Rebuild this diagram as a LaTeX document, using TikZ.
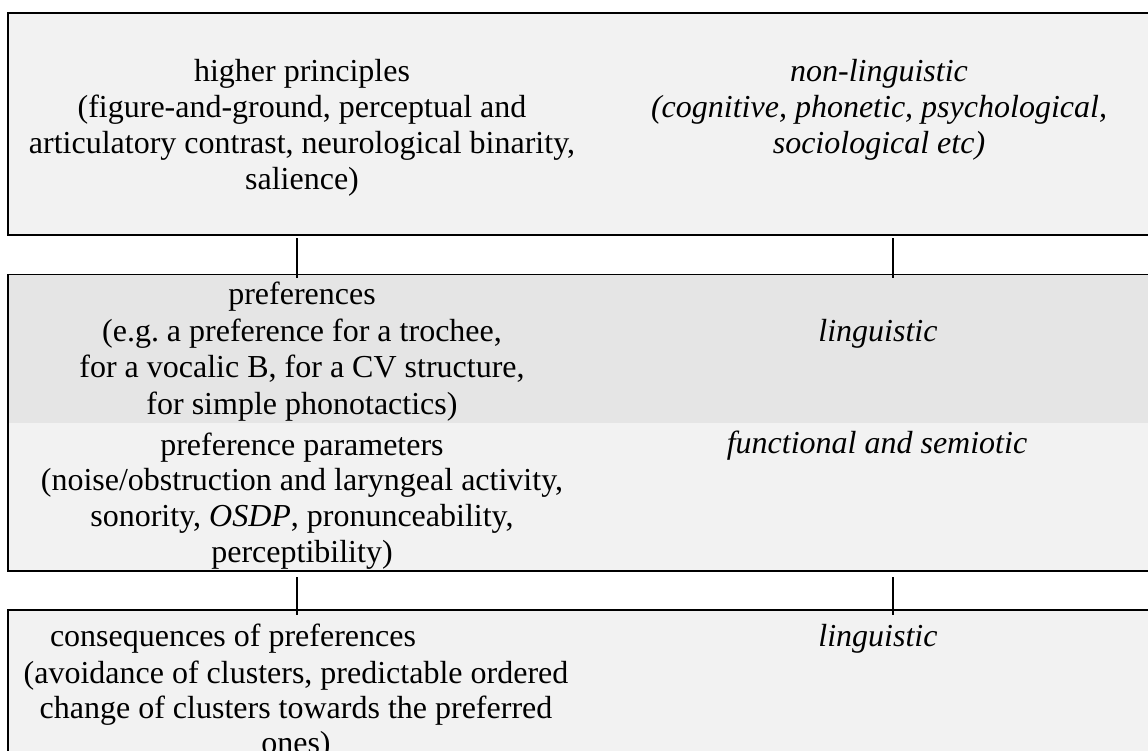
\documentclass[tikz,border=0pt]{standalone}
\usepackage{fontspec}
\setmainfont{Liberation Serif}
\usetikzlibrary{fit,calc}
\definecolor{lightfill}{HTML}{F2F2F2}
\definecolor{darkfill}{HTML}{E5E5E5}
\frenchspacing
\begin{document}
\begin{tikzpicture}[x=0.5pt,y=-0.5pt,
  panel/.style={inner sep=0pt, outer sep=0pt, draw=none},
  txt/.style={inner sep=0pt, outer sep=0pt, align=center, anchor=base, font=\fontsize{16}{18}\selectfont},
  itxt/.style={txt, font=\fontsize{16}{18}\selectfont\itshape},
  heavy/.style={line width=1pt, line join=miter},
  light/.style={line width=0.5pt},
  conn/.style={line width=0.75pt},
]
\useasboundingbox (0,0) rectangle (1148,751);
\fill[white] (0,0) rectangle (1148,751);
% panels
\node[panel, fill=lightfill, fit={(8,13)(1170,235)}] (top) {};
\node[panel, fill=darkfill, fit={(8,274)(1170,423)}] (pref) {};
\node[panel, fill=lightfill, fit={(8,423)(1170,571)}] (param) {};
\node[panel, fill=lightfill, fit={(8,610)(1170,800)}] (cons) {};
% borders
\draw[heavy] (top.south east) -- (top.south west) -- (top.north west) -- (top.north east);
\draw[light] (pref.north west) -- (pref.north east);
\draw[heavy] (pref.north west) -- (param.south west) -- (param.south east);
\draw[heavy] (cons.south west) -- (cons.north west) -- (cons.north east);
% connector columns
\coordinate (colL) at (297,0);
\coordinate (colR) at (893,0);
\draw[conn] ($(top.south -| colL)+(0,3)$) -- ($(pref.north -| colL)+(0,4)$);
\draw[conn] ($(top.south -| colR)+(0,3)$) -- ($(pref.north -| colR)+(0,4)$);
\draw[conn] ($(param.south -| colL)+(0,6)$) -- ($(cons.north -| colL)+(0,5)$);
\draw[conn] ($(param.south -| colR)+(0,6)$) -- ($(cons.north -| colR)+(0,5)$);
% texts (anchor base = baseline of the last line)
\node[txt] (hp) at (302,189) {higher principles\\(figure-and-ground, perceptual and\\articulatory contrast, neurological binarity,\\salience)};
\node[itxt] (nl) at (879,153) {non-linguistic\\(cognitive, phonetic, psychological,\\sociological etc)};
\node[txt, font=\fontsize{16}{18.25}\selectfont] (pr) at (302,414) {preferences\\(e.g. a preference for a trochee,\\for a vocalic B, for a CV structure,\\for simple phonotactics)};
\node[itxt] (li1) at (878,341.5) {linguistic};
\node[txt, font=\fontsize{16}{17.8}\selectfont] (pp) at (302,562) {preference parameters\\(noise/obstruction and laryngeal activity,\\sonority, \textit{OSDP}, pronunceability,\\perceptibility)};
\node[itxt] (fs) at (877,453) {functional and semiotic};
\node[txt, anchor=base west] (c1) at (50,646.5) {consequences of preferences};
\node[txt, font=\fontsize{16}{17.5}\selectfont] (c2) at (296,753) {(avoidance of clusters, predictable ordered\\change of clusters towards the preferred\\ones)};
\node[itxt] (li2) at (878,646.5) {linguistic};
\end{tikzpicture}
\end{document}
